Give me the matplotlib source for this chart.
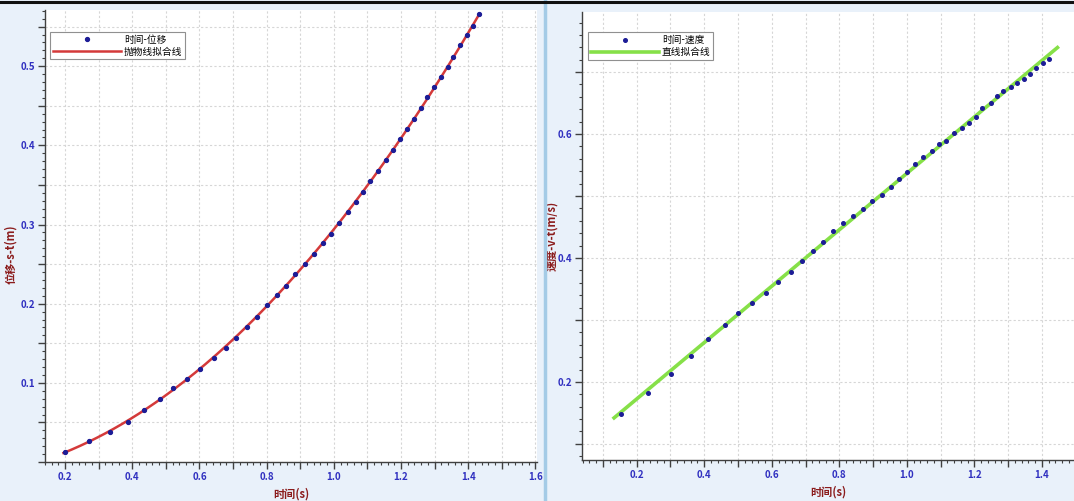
import numpy as np
import matplotlib
matplotlib.use("Agg")
import matplotlib.pyplot as plt
from matplotlib.ticker import MultipleLocator, FuncFormatter
from matplotlib.lines import Line2D

plt.rcParams['font.family'] = ['Noto Sans CJK SC', 'DejaVu Sans']
plt.rcParams['axes.unicode_minus'] = False

# 时间-位移 (left chart)
t_s = [0.200, 0.272, 0.334, 0.388, 0.436, 0.481, 0.522, 0.564, 0.603, 0.642,
       0.678, 0.710, 0.740, 0.770, 0.800, 0.830, 0.857, 0.884, 0.913, 0.940,
       0.967, 0.991, 1.015, 1.042, 1.066, 1.087, 1.108, 1.131, 1.155, 1.176,
       1.197, 1.218, 1.239, 1.260, 1.278, 1.299, 1.319, 1.340, 1.355, 1.376,
       1.397, 1.415, 1.433]
s = [0.0129, 0.0268, 0.0382, 0.0508, 0.0659, 0.0798, 0.0937, 0.1050, 0.1177, 0.1315,
     0.1442, 0.1568, 0.1707, 0.1833, 0.1985, 0.2111, 0.2224, 0.2375, 0.2502, 0.2628,
     0.2767, 0.2880, 0.3019, 0.3158, 0.3284, 0.3410, 0.3549, 0.3675, 0.3814, 0.3940,
     0.4079, 0.4205, 0.4331, 0.4470, 0.4609, 0.4735, 0.4861, 0.4987, 0.5114, 0.5265,
     0.5391, 0.5505, 0.5656]

# 时间-速度 (right chart)
t_v = [0.153, 0.233, 0.301, 0.360, 0.410, 0.461, 0.499, 0.541, 0.582, 0.618,
       0.656, 0.689, 0.722, 0.751, 0.781, 0.810, 0.840, 0.870, 0.896, 0.926,
       0.953, 0.976, 1.000, 1.024, 1.047, 1.074, 1.095, 1.116, 1.139, 1.163,
       1.184, 1.204, 1.222, 1.249, 1.267, 1.284, 1.308, 1.326, 1.347, 1.364,
       1.382, 1.403, 1.421]
v = [0.148, 0.182, 0.213, 0.242, 0.269, 0.292, 0.311, 0.327, 0.344, 0.361,
     0.377, 0.395, 0.411, 0.426, 0.444, 0.457, 0.468, 0.479, 0.492, 0.502,
     0.515, 0.527, 0.539, 0.552, 0.563, 0.573, 0.584, 0.589, 0.602, 0.610,
     0.618, 0.627, 0.642, 0.650, 0.661, 0.669, 0.676, 0.682, 0.689, 0.697,
     0.707, 0.715, 0.721]

bg = '#e9f1fa'
blue = '#3030c0'
red = '#8b1c1c'
pt = '#1c1c96'

fig = plt.figure(figsize=(10.74, 5.01), dpi=100)
fig.patch.set_facecolor(bg)

ax1 = fig.add_axes([45/1074, 39/501, 492/1074, 452/501])
ax2 = fig.add_axes([582/1074, 41/501, 492/1074, 448/501])


def fmt_every(step):
    def f(x, pos):
        k = x / step
        if abs(k - round(k)) > 1e-6 or abs(x) < 1e-9:
            return ''
        return f'{x:.1f}'
    return FuncFormatter(f)


def style(ax, xmaj, xmin, xlab, ymaj, ymin, ylab):
    ax.set_facecolor('white')
    for sp in ['top', 'right']:
        ax.spines[sp].set_visible(False)
    for sp in ['left', 'bottom']:
        ax.spines[sp].set_color('#404040')
        ax.spines[sp].set_linewidth(1.0)
    ax.xaxis.set_major_locator(MultipleLocator(xmaj))
    ax.xaxis.set_minor_locator(MultipleLocator(xmin))
    ax.yaxis.set_major_locator(MultipleLocator(ymaj))
    ax.yaxis.set_minor_locator(MultipleLocator(ymin))
    ax.xaxis.set_major_formatter(fmt_every(xlab))
    ax.yaxis.set_major_formatter(fmt_every(ylab))
    ax.tick_params(which='major', length=5, width=1, color='#404040',
                   labelsize=7, labelcolor=blue, pad=2)
    ax.tick_params(which='minor', length=2.5, width=0.8, color='#404040')
    for lab in ax.get_xticklabels() + ax.get_yticklabels():
        lab.set_fontweight('bold')
    ax.grid(True, which='major', color='#d6d6d6', linestyle=(0, (2, 2)), linewidth=0.8)
    ax.set_axisbelow(True)


# left: displacement vs time with parabola fit
style(ax1, 0.1, 0.02, 0.2, 0.05, 0.01, 0.1)
ax1.set_xlim(0.14, 1.605)
ax1.set_ylim(0.0, 0.571)
c2 = np.polyfit(t_s, s, 2)
tt = np.linspace(min(t_s) - 0.005, max(t_s), 200)
ax1.plot(t_s, s, 'o', color=pt, ms=2.8, label='时间-位移', zorder=3)
ax1.plot(tt, np.polyval(c2, tt), color='#d43a3a', lw=1.8, label='抛物线拟合线', zorder=2)
ax1.set_xlabel('时间(s)', color=red, fontsize=8, fontweight='bold', labelpad=4)
ax1.set_ylabel('位移-s-t(m)', color=red, fontsize=8, fontweight='bold')
ax1.yaxis.set_label_coords(-0.056, 0.46)
leg = ax1.legend(loc='upper left', bbox_to_anchor=(0.01, 0.952), borderaxespad=0,
                 fontsize=7, handlelength=7, fancybox=False, framealpha=1,
                 edgecolor='#909090', borderpad=0.3, labelspacing=0.2, handletextpad=0.3)
leg.get_frame().set_linewidth(0.8)

# right: velocity vs time with linear fit
style(ax2, 0.1, 0.02, 0.2, 0.1, 0.02, 0.2)
ax2.set_xlim(0.038, 1.495)
ax2.set_ylim(0.074, 0.797)
c1 = np.polyfit(t_v, v, 1)
tl = np.linspace(min(t_v) - 0.02, max(t_v) + 0.025, 2)
ax2.plot(t_v, v, 'o', color=pt, ms=2.6, label='时间-速度', zorder=3)
ax2.plot(tl, np.polyval(c1, tl), color='#86e048', lw=2.6, label='直线拟合线', zorder=2)
ax2.set_xlabel('时间(s)', color=red, fontsize=8, fontweight='bold', labelpad=4)
ax2.set_ylabel('速度-v-t(m/s)', color=red, fontsize=8, fontweight='bold')
ax2.yaxis.set_label_coords(-0.048, 0.5)
leg = ax2.legend(loc='upper left', bbox_to_anchor=(0.012, 0.955), borderaxespad=0,
                 fontsize=7, handlelength=7, fancybox=False, framealpha=1,
                 edgecolor='#909090', borderpad=0.3, labelspacing=0.2, handletextpad=0.3)
leg.get_frame().set_linewidth(0.8)

# panel separator and top border
fig.add_artist(Line2D([545/1074, 545/1074], [0, 1], color='#a4cbe6', lw=2.5))
fig.add_artist(Line2D([0, 1], [1 - 1.5/501, 1 - 1.5/501], color='#111111', lw=2.2))

fig.savefig('out.png', dpi=100, facecolor=fig.get_facecolor())
